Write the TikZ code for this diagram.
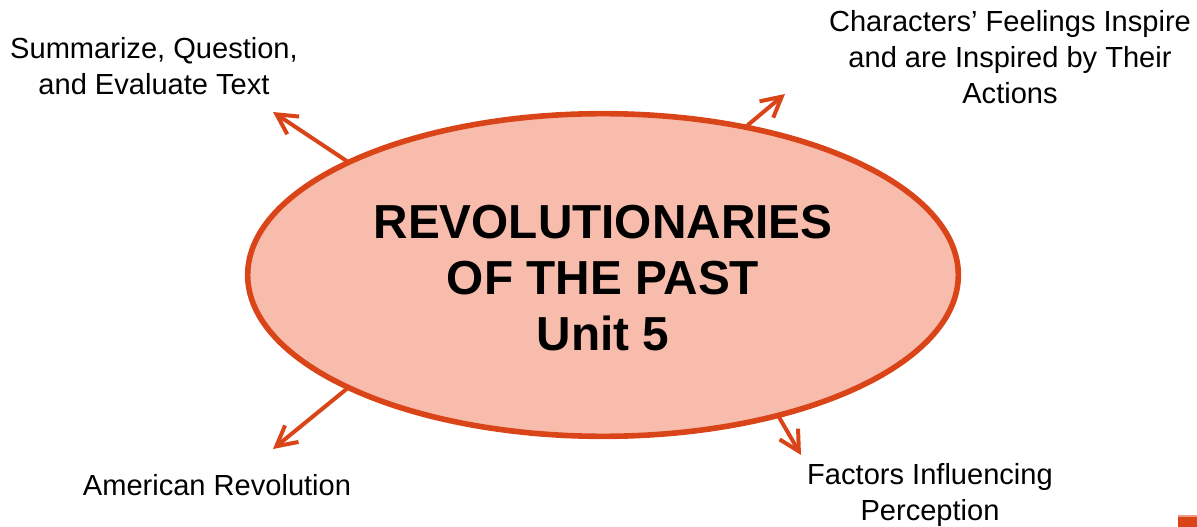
\documentclass[tikz,border=0pt]{standalone}
\usepackage{fontspec}
\setmainfont{Liberation Sans}
\usetikzlibrary{shapes.geometric,arrows.meta}
\definecolor{edge}{HTML}{DA4419}
\definecolor{blob}{HTML}{F8BCAC}
\definecolor{edgelight}{HTML}{EE9A80}
\tikzset{
  lbl/.style={inner sep=0pt, align=center, font=\fontsize{21.8}{27}\selectfont},
  spoke/.style={draw=edge, line width=3pt, line cap=round, -{Straight Barb[length=15pt,width=16pt,line width=3pt]}},
}
\begin{document}
\begin{tikzpicture}[x=0.75pt,y=-0.75pt]
\useasboundingbox (0,0) rectangle (1197,527);
\node[ellipse, draw=edge, fill=blob, line width=4.2pt, minimum width=533pt, minimum height=242pt, inner sep=0pt] (ell) at (603,275) {};
\node[inner sep=0pt, align=center, font=\fontsize{35.8}{42}\selectfont\bfseries] (title) at (603,278) {REVOLUTIONARIES\\OF THE PAST\\Unit 5};
\node[lbl] (sum) at (154,66) {Summarize, Question,\\and Evaluate Text};
\node[lbl] (char) at (1010,57) {Characters’ Feelings Inspire\\and are Inspired by Their\\Actions};
\node[lbl] (amer) at (217,485) {American Revolution};
\node[lbl] (fact) at (930,495) {Factors Influencing\\Perception};
\coordinate (t1) at (273,112);
\coordinate (t2) at (785,94);
\coordinate (t3) at (273,449);
\coordinate (t4) at (801,455);
\draw[spoke] (ell.156) -- (t1);
\draw[spoke] (ell.46) -- (t2);
\draw[spoke] (ell.204) -- (t3);
\draw[spoke] (ell.321) -- (t4);
\fill[edge] (1178,515) rectangle (1197,527);
\fill[edgelight] (1178,515) rectangle (1197,517);
\end{tikzpicture}
\end{document}
